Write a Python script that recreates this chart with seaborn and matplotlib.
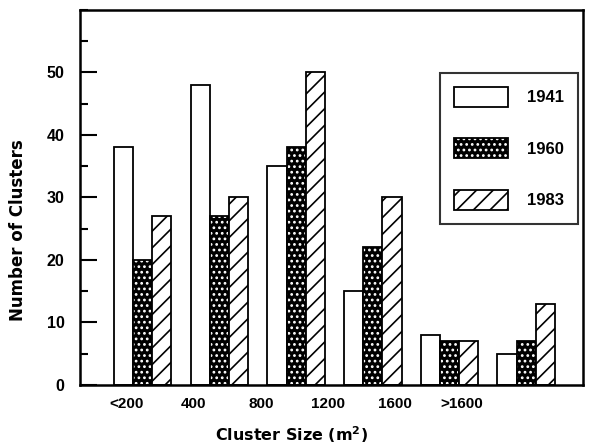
import pandas as pd
import matplotlib.pyplot as plt
import matplotlib.ticker as mticker
from matplotlib.patches import Patch
import seaborn as sns

# Data
sizes = ['<200', '400', '800', '1200', '1600', '>1600']
years = ['1941', '1960', '1983']
clusters_1941 = [38, 48, 35, 15, 8, 5]
clusters_1960 = [20, 27, 38, 22, 7, 7]
clusters_1983 = [27, 30, 50, 30, 7, 13]

df = pd.DataFrame({
    'size': sizes * 3,
    'year': [y for y in years for _ in sizes],
    'count': clusters_1941 + clusters_1960 + clusters_1983,
})

sns.set_style("ticks")
plt.rcParams['font.family'] = ['Liberation Sans', 'DejaVu Sans']
plt.rcParams['font.weight'] = 'bold'
plt.rcParams['mathtext.default'] = 'bf'
plt.rcParams['hatch.linewidth'] = 1.2
for key in ['text.color', 'axes.labelcolor', 'xtick.color', 'ytick.color']:
    plt.rcParams[key] = 'black'

fig = plt.figure(figsize=(5.96, 4.46), dpi=100)
ax = fig.add_axes([0.134, 0.137, 0.844, 0.841])

sns.barplot(data=df, x='size', y='count', hue='year', order=sizes,
            hue_order=years, width=0.75, ax=ax, legend=False)

# styles per year: (face, edge, hatch, hatch colour)
styles = {
    '1941': ('white', 'black', None, 'black'),
    '1960': ('black', 'black', '...', 'white'),
    '1983': ('white', 'black', '//', 'black'),
}


def style_patch(p, face, edge, hatch, hcol):
    p.set_facecolor(face)
    p.set_edgecolor(edge)
    p.set_linewidth(1.3)
    if hatch:
        p.set_hatch(hatch)
    if hasattr(p, 'set_hatchcolor'):
        p.set_hatchcolor(hcol)
    else:
        p._hatch_color = plt.matplotlib.colors.to_rgba(hcol)


for year, cont in zip(years, ax.containers):
    for bar in cont:
        style_patch(bar, *styles[year])

# axes limits and ticks
ax.set_xlim(-0.82, 5.74)
ax.set_ylim(0, 60)
ax.yaxis.set_major_locator(mticker.MultipleLocator(10))
ax.yaxis.set_minor_locator(mticker.MultipleLocator(5))
ax.set_yticks([0, 10, 20, 30, 40, 50])
# tick labels in the original sit left of the bar groups
ax.set_xticks([-0.21 + 0.875 * i for i in range(len(sizes))])
ax.set_xticklabels(sizes)
ax.tick_params(axis='y', which='major', direction='in', length=12, width=1.5,
               pad=11, labelsize=11.5)
ax.tick_params(axis='y', which='minor', direction='in', length=6, width=1.5)
ax.tick_params(axis='x', length=0, pad=9, labelsize=11)
for s in ax.spines.values():
    s.set_visible(True)
    s.set_linewidth(1.8)
    s.set_color('black')

ax.set_xlabel('Cluster Size (m$^2$)', fontsize=11.5, fontweight='bold',
              family='DejaVu Sans')
ax.set_ylabel('Number of Clusters', fontsize=12, fontweight='bold',
              family='DejaVu Sans')
ax.xaxis.set_label_coords(0.42, -0.105)
ax.yaxis.set_label_coords(-0.105, 0.413)

handles = []
for year in years:
    h = Patch(label=year)
    style_patch(h, *styles[year])
    handles.append(h)
leg = ax.legend(handles=handles, loc='upper right', bbox_to_anchor=(0.990, 0.832),
                fontsize=12, frameon=True, fancybox=False, edgecolor='black',
                handlelength=3.25, handleheight=1.45, labelspacing=1.9,
                handletextpad=1.1, borderpad=0.85, borderaxespad=0)
leg.get_frame().set_linewidth(1.5)

plt.savefig("out.png", dpi=100)
